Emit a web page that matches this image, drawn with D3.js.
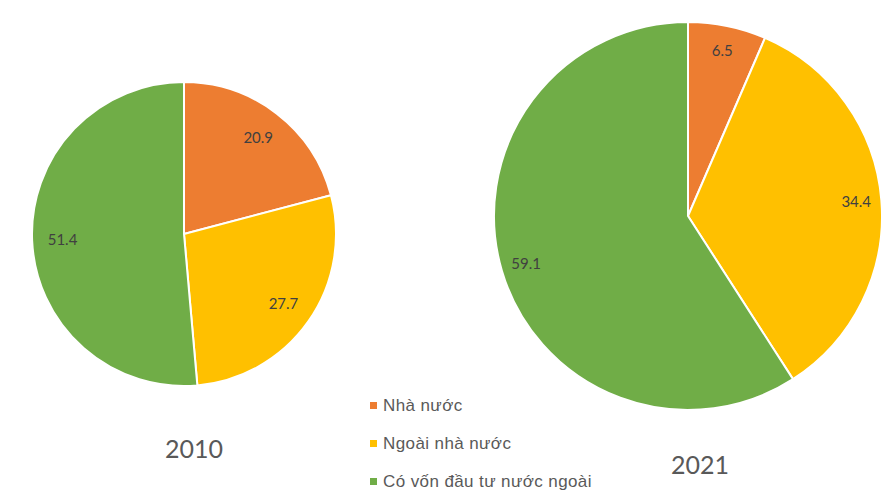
<!DOCTYPE html>
<html><head><meta charset="utf-8">
<script src="https://cdn.jsdelivr.net/npm/d3@7"></script>
<style>body{margin:0;background:#fff}svg{display:block}</style>
</head><body>
<svg id="c" width="890" height="503"></svg>
<script>
const categories = ["Nhà nước", "Ngoài nhà nước", "Có vốn đầu tư nước ngoài"];
const years = ["2010", "2021"];
const values2010 = [20.9, 27.7, 51.4];
const values2021 = [6.5, 34.4, 59.1];
const colors = ["#ED7D31", "#FFC000", "#70AD47"];

const svg = d3.select("#c");
const charts = [
  {year: years[0], values: values2010, cx: 184, cy: 234, r: 152, lr: 0.8, ty: 458, tx: 194},
  {year: years[1], values: values2021, cx: 688, cy: 216, r: 194, lr: 0.87, ty: 474, tx: 700}
];
const pie = d3.pie().sort(null).value(d => d);
const color = d3.scaleOrdinal().domain(categories).range(colors);

charts.forEach(c => {
  const g = svg.append("g").attr("transform", `translate(${c.cx},${c.cy})`);
  const arcs = pie(c.values);
  const arc = d3.arc().innerRadius(0).outerRadius(c.r);
  g.selectAll("path").data(arcs).join("path")
    .attr("d", arc)
    .attr("fill", (d, i) => color(categories[i]))
    .attr("stroke", "#fff").attr("stroke-width", 2).attr("stroke-linejoin", "round");
  const la = d3.arc().innerRadius(c.r * c.lr).outerRadius(c.r * c.lr);
  g.selectAll("text").data(arcs).join("text")
    .attr("transform", d => `translate(${la.centroid(d)})`)
    .attr("text-anchor", "middle").attr("dy", "0.35em")
    .attr("font-family", "Lato, 'Open Sans', sans-serif").attr("font-size", 15)
    .attr("fill", "#404040")
    .text(d => d.data.toFixed(1));
  svg.append("text").attr("x", c.tx).attr("y", c.ty)
    .attr("text-anchor", "middle")
    .attr("font-family", "Lato, 'Open Sans', sans-serif").attr("font-size", 25)
    .attr("fill", "#595959").text(c.year);
});

const leg = svg.append("g");
const ly = d3.scalePoint().domain(categories).range([405.5, 481.5]);
categories.forEach(cat => {
  leg.append("rect").attr("x", 370).attr("y", ly(cat) - 3.5).attr("width", 7).attr("height", 7).attr("fill", color(cat));
  leg.append("text").attr("x", 383).attr("y", ly(cat)).attr("dy", "0.35em")
    .attr("font-family", "'Liberation Sans', Arial, sans-serif").attr("font-size", 17)
    .attr("letter-spacing", 0.4)
    .attr("fill", "#595959").text(cat);
});
</script>
</body></html>
